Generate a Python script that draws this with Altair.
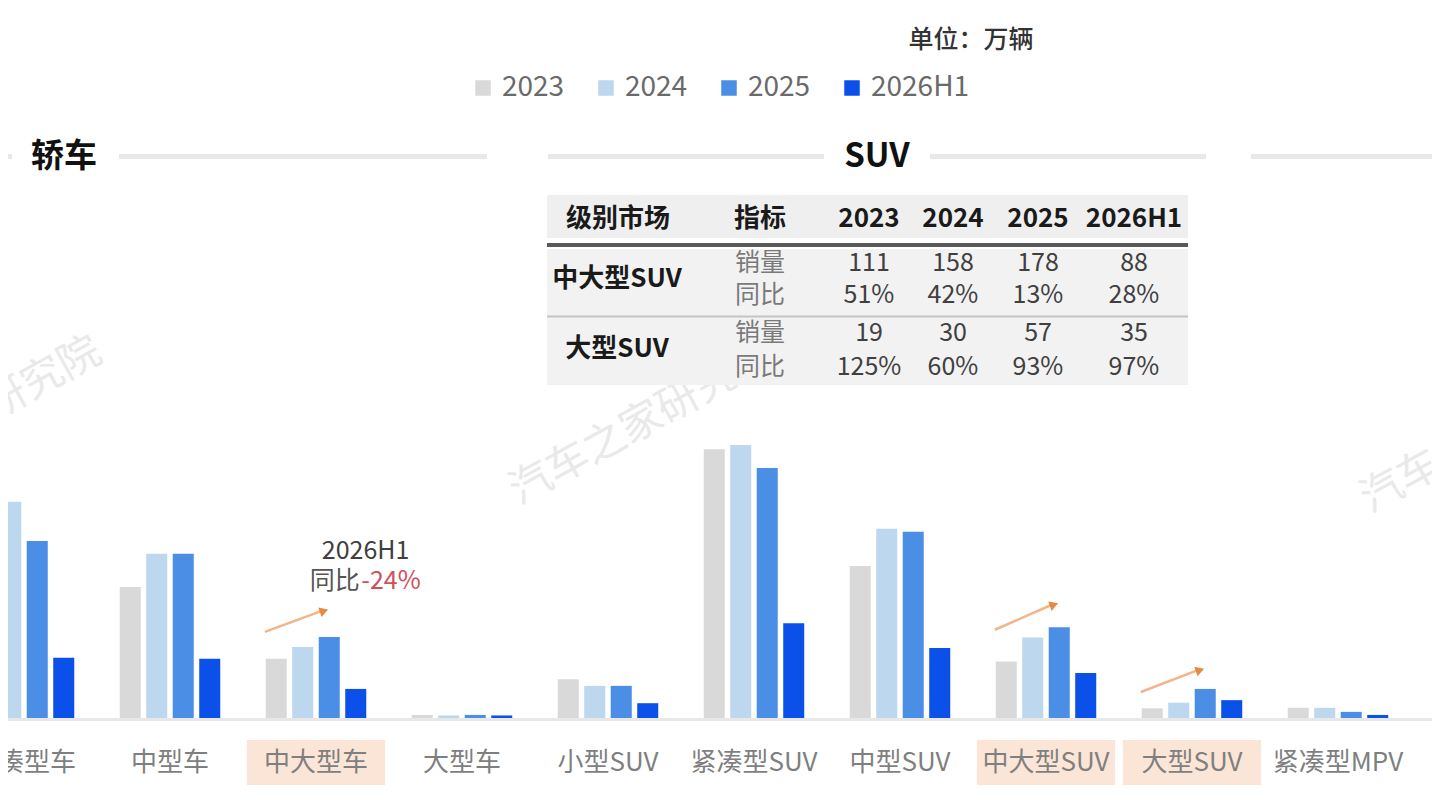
import altair as alt
import pandas as pd

FONT = "Noto Sans CJK SC"

# ---------------- data ----------------
categories = ["紧凑型车", "中型车", "中大型车", "大型车", "小型SUV", "紧凑型SUV",
              "中型SUV", "中大型SUV", "大型SUV", "紧凑型MPV", "中型MPV"]
years = ["2023", "2024", "2025", "2026H1"]
sales_2023 = [440, 257, 116, 6, 76, 527, 298, 111, 19, 20, 10]
sales_2024 = [424, 322, 139, 5, 63, 535, 371, 158, 30, 20, 9]
sales_2025 = [347, 322, 159, 6, 63, 490, 365, 178, 57, 12, 8]
sales_2026h1 = [118, 116, 57, 5, 29, 186, 137, 88, 35, 6, 4]
highlighted = ["中大型车", "中大型SUV", "大型SUV"]

table_header = ["级别市场", "指标"] + years
table_rows = ["中大型SUV", "大型SUV"]
table_metrics = ["销量", "同比"]
mid_large_suv_sales = ["111", "158", "178", "88"]
mid_large_suv_yoy = ["51%", "42%", "13%", "28%"]
large_suv_sales = ["19", "30", "57", "35"]
large_suv_yoy = ["125%", "60%", "93%", "97%"]

section_titles = ["轿车", "SUV"]
unit_text = "单位：万辆"
note_title = "2026H1"
note_label = "同比"
note_value = "-24%"
watermark = "汽车之家研究院"

colors = ["#d9d9d9", "#bdd7ee", "#4a8ee6", "#0b50e8"]

# ---------------- layout ----------------
W, H = 1424, 710
x_scale = alt.Scale(domain=[-0.1096, 9.644], nice=False, zero=False)
y_scale = alt.Scale(domain=[0, 1392], nice=False, zero=False)
px_x = alt.Scale(domain=[0, W], range=[0, W], nice=False, zero=False)
px_y = alt.Scale(domain=[0, H], range=[0, H], nice=False, zero=False)

series = [sales_2023, sales_2024, sales_2025, sales_2026h1]
bar_rows = []
for ci, cat in enumerate(categories):
    for yi, yr in enumerate(years):
        bar_rows.append({"ci": ci, "cat": cat, "yi": yi, "year": yr, "value": series[yi][ci]})
bar_df = pd.DataFrame(bar_rows)
cat_df = pd.DataFrame({"ci": list(range(len(categories))), "cat": categories})
hl_df = cat_df[cat_df["cat"].isin(highlighted)].copy()

one = pd.DataFrame({"k": [0]})

base_rule = alt.Chart(one).mark_rule(color="#e8e8e8", strokeWidth=3).encode(
    x=alt.value(0), x2=alt.value(W), y=alt.value(711.5))

bars = alt.Chart(bar_df).transform_calculate(
    x0="datum.ci + (datum.yi - 1.5) * 0.1815 - 0.072",
    x1="datum.ci + (datum.yi - 1.5) * 0.1815 + 0.072",
).mark_rect(clip=True).encode(
    x=alt.X("x0:Q", scale=x_scale, axis=None),
    x2="x1:Q",
    y=alt.Y("value:Q", scale=y_scale, axis=None),
    y2=alt.datum(0),
    color=alt.Color("year:N", scale=alt.Scale(domain=years, range=colors),
                    legend=alt.Legend(orient="none", legendX=461, legendY=66,
                                      direction="horizontal", title=None,
                                      symbolType="square", symbolSize=240,
                                      symbolStrokeWidth=0, labelFontSize=28,
                                      labelColor="#6a6a6a", labelFont=FONT,
                                      columnPadding=27, labelOffset=5, padding=0)),
)

hl_rect = alt.Chart(hl_df).transform_calculate(
    xa="datum.ci - 0.473", xb="datum.ci + 0.473"
).mark_rect(color="#fbe5d6").encode(
    x=alt.X("xa:Q", scale=x_scale, axis=None), x2="xb:Q", y=alt.value(732), y2=alt.value(777))

cat_labels = alt.Chart(cat_df).mark_text(
    fontSize=26, color="#7f7f7f", font=FONT, baseline="middle", align="center"
).encode(x=alt.X("ci:Q", scale=x_scale, axis=None), y=alt.value(755), text="cat:N")

# section header lines and titles
seg_df = pd.DataFrame({"xa": [0, 111, 540, 922, 1243], "xb": [4, 479, 816, 1198, 1424]})
seg = alt.Chart(seg_df).mark_rule(color="#e9e9e9", strokeWidth=5).encode(
    x=alt.X("xa:Q", scale=px_x, axis=None), x2="xb:Q", y=alt.value(148.5))
sec_df = pd.DataFrame({"t": section_titles, "x": [56, 869]})
sec = alt.Chart(sec_df).mark_text(
    fontSize=33, fontWeight="bold", color="#111111", font=FONT, baseline="middle"
).encode(x=alt.X("x:Q", scale=px_x, axis=None), y=alt.value(149), text="t:N")

unit = alt.Chart(pd.DataFrame({"t": [unit_text]})).mark_text(
    fontSize=25, color="#333333", font=FONT, baseline="middle", fontWeight=500
).encode(x=alt.value(963), y=alt.value(32), text="t:N")

# watermarks
wm_r = alt.Chart(pd.DataFrame({"t": [watermark]})).mark_text(
    fontSize=42, color="#e9e9e9", font=FONT, angle=331, align="right", baseline="middle"
).encode(x=alt.value(90), y=alt.value(340), text="t:N")
wm_l = alt.Chart(pd.DataFrame({"t": [watermark] * 2, "x": [505, 1356], "y": [486, 494]})).mark_text(
    fontSize=42, color="#e9e9e9", font=FONT, angle=331, align="left", baseline="middle"
).encode(x=alt.X("x:Q", scale=px_x, axis=None), y=alt.Y("y:Q", scale=px_y, axis=None), text="t:N")

# table
tbl_hbg = alt.Chart(one).mark_rect(color="#efefef").encode(
    x=alt.value(539), x2=alt.value(1180), y=alt.value(187), y2=alt.value(230))
tbl_bbg = alt.Chart(one).mark_rect(color="#f2f2f2").encode(
    x=alt.value(539), x2=alt.value(1180), y=alt.value(241), y2=alt.value(377))
tbl_thick = alt.Chart(one).mark_rule(color="#595959", strokeWidth=4).encode(
    x=alt.value(539), x2=alt.value(1180), y=alt.value(237))
tbl_thin = alt.Chart(one).mark_rule(color="#c4c4c4", strokeWidth=2).encode(
    x=alt.value(539), x2=alt.value(1180), y=alt.value(308.5))

col_x = [610, 752, 861, 945, 1030, 1126]
hdr_df = pd.DataFrame({"t": table_header, "x": col_x})
tbl_hdr = alt.Chart(hdr_df).mark_text(
    fontSize=26, fontWeight="bold", color="#1a1a1a", font=FONT, baseline="middle"
).encode(x=alt.X("x:Q", scale=px_x, axis=None), y=alt.value(211), text="t:N")

row_label_y = [271, 341]
metric_y = [[255, 287], [325, 359]]
row_values = [[mid_large_suv_sales, mid_large_suv_yoy], [large_suv_sales, large_suv_yoy]]
rl_df = pd.DataFrame({"t": table_rows, "y": row_label_y})
tbl_rl = alt.Chart(rl_df).mark_text(
    fontSize=26, fontWeight="bold", color="#1a1a1a", font=FONT, baseline="middle"
).encode(x=alt.value(609), y=alt.Y("y:Q", scale=px_y, axis=None), text="t:N")
met_rows, val_rows = [], []
for ri in range(len(table_rows)):
    for mi, m in enumerate(table_metrics):
        met_rows.append({"t": m, "y": metric_y[ri][mi]})
        for k, v in enumerate(row_values[ri][mi]):
            val_rows.append({"t": v, "x": col_x[2 + k], "y": metric_y[ri][mi]})
tbl_met = alt.Chart(pd.DataFrame(met_rows)).mark_text(
    fontSize=25, color="#7a7a7a", font=FONT, baseline="middle"
).encode(x=alt.value(752), y=alt.Y("y:Q", scale=px_y, axis=None), text="t:N")
tbl_val = alt.Chart(pd.DataFrame(val_rows)).mark_text(
    fontSize=25, color="#404040", font=FONT, baseline="middle"
).encode(x=alt.X("x:Q", scale=px_x, axis=None), y=alt.Y("y:Q", scale=px_y, axis=None), text="t:N")

# growth arrows
arrow_cat = [2, 7, 8]
arrow_y0 = [169, 173, 51]
arrow_y1 = [210, 222, 94]
ar_df = pd.DataFrame({"ci": arrow_cat, "y0": arrow_y0, "y1": arrow_y1})
ar_line = alt.Chart(ar_df).transform_calculate(
    xa="datum.ci - 0.35", xb="datum.ci + 0.04"
).mark_rule(color="#f2b489", strokeWidth=2.5).encode(
    x=alt.X("xa:Q", scale=x_scale, axis=None), x2="xb:Q",
    y=alt.Y("y0:Q", scale=y_scale, axis=None), y2="y1:Q")
ar_head = alt.Chart(ar_df).transform_calculate(xb="datum.ci + 0.055").mark_point(
    shape="triangle-right", filled=True, size=100, color="#e48a45", opacity=1, angle=341
).encode(x=alt.X("xb:Q", scale=x_scale, axis=None), y=alt.Y("y1:Q", scale=y_scale, axis=None))

# annotation text
note1 = alt.Chart(pd.DataFrame({"t": [note_title], "ci": [2.34], "v": [327]})).mark_text(
    fontSize=25, color="#404040", font=FONT, baseline="middle"
).encode(x=alt.X("ci:Q", scale=x_scale, axis=None), y=alt.Y("v:Q", scale=y_scale, axis=None), text="t:N")
note2 = alt.Chart(pd.DataFrame({"t": [note_label], "ci": [2.30], "v": [268]})).mark_text(
    fontSize=25, color="#555555", font=FONT, baseline="middle", align="right"
).encode(x=alt.X("ci:Q", scale=x_scale, axis=None), y=alt.Y("v:Q", scale=y_scale, axis=None), text="t:N")
note3 = alt.Chart(pd.DataFrame({"t": [note_value], "ci": [2.31], "v": [268]})).mark_text(
    fontSize=25, color="#d0505a", font=FONT, baseline="middle", align="left"
).encode(x=alt.X("ci:Q", scale=x_scale, axis=None), y=alt.Y("v:Q", scale=y_scale, axis=None), text="t:N")

chart = alt.layer(
    wm_r, wm_l, seg, sec, unit, tbl_hbg, tbl_bbg, tbl_thick, tbl_thin, tbl_hdr, tbl_rl,
    tbl_met, tbl_val, hl_rect, cat_labels, base_rule, bars, ar_line, ar_head,
    note1, note2, note3
).resolve_scale(x="independent", y="independent").properties(
    width=W, height=H,
    autosize=alt.AutoSizeParams(type="none"),
    padding={"left": 0, "top": 0, "right": 0, "bottom": 84},
).configure_view(stroke=None)

chart.save("out.html", embed_options={"renderer": "svg", "actions": False})
